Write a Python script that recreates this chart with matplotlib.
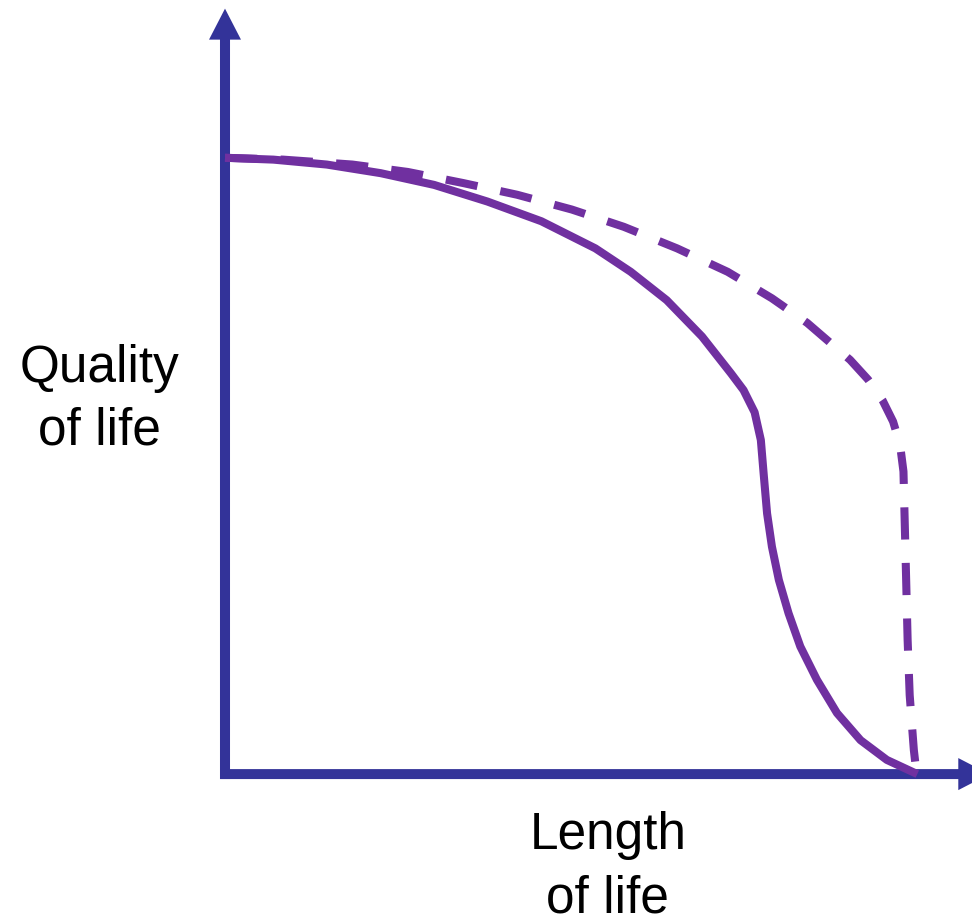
import matplotlib
matplotlib.use("Agg")
import matplotlib.pyplot as plt

plt.rcParams["font.family"] = ["Liberation Sans", "DejaVu Sans"]

# Concept curves: length of life (x, 0-100) vs quality of life (y, 0-100)
solid_x = [0, 7.0, 14.7, 22.5, 30.2, 37.9, 45.7, 53.5, 58.6, 63.8, 68.9, 73.1,
           74.9, 76.5, 77.4, 77.8, 78.3, 79.0, 80.0, 81.4, 83.1, 85.5, 88.4,
           91.8, 95.6, 100]
solid_y = [100, 99.7, 98.9, 97.5, 95.6, 92.9, 89.7, 85.3, 81.5, 76.9, 71.0, 65.0,
           62.3, 58.7, 54.2, 48.8, 42.3, 36.9, 31.5, 26.1, 20.7, 15.3, 9.9,
           5.5, 2.3, 0]

dashed_x = [0, 8.4, 18.4, 26.4, 34.4, 42.2, 50.1, 57.6, 65.3, 72.6, 79.0, 84.1,
            90.3, 92.9, 95.0, 96.5, 97.5, 98.0, 98.2, 98.4, 98.6, 98.9, 99.5, 99.9]
dashed_y = [100, 99.7, 98.9, 97.7, 95.9, 94.0, 91.6, 88.8, 85.3, 81.5, 77.2, 73.2,
            67.2, 64.0, 60.6, 57.2, 53.5, 49.1, 40.1, 31.0, 21.8, 12.8, 3.9, 0]

x_label = "Length\nof life"
y_label = "Quality\nof life"

AXIS_COLOR = "#333399"
CURVE_COLOR = "#7030A0"

fig = plt.figure(figsize=(9.72, 9.22), dpi=100)
ax = fig.add_axes([0, 0, 1, 1])
ax.set_xlim(-32.5, 107.9)
ax.set_ylim(-24.0, 125.6)
ax.axis("off")

# axes drawn as arrows
ax.arrow(0, -0.8, 0, 125.0, width=1.45, head_width=4.62, head_length=5.03,
         length_includes_head=True, color=AXIS_COLOR, lw=0, zorder=1)
ax.arrow(-0.7, 0, 111.1, 0, width=1.62, head_width=5.2, head_length=4.48,
         length_includes_head=True, color=AXIS_COLOR, lw=0, zorder=1)

lw = 5.8
ax.plot(solid_x, solid_y, color=CURVE_COLOR, lw=lw, solid_capstyle="butt",
        solid_joinstyle="round", zorder=2)
ax.plot(dashed_x, dashed_y, color=CURVE_COLOR, lw=lw, linestyle=(0, (4.0, 2.9)),
        dash_capstyle="butt", dash_joinstyle="round", zorder=2)

# va="baseline" puts the last line's baseline at y
ax.text(-18.1, 53.4, y_label, ha="center", va="baseline", fontsize=37,
        linespacing=1.38, multialignment="center")
ax.text(55.3, -22.4, x_label, ha="center", va="baseline", fontsize=37,
        linespacing=1.38, multialignment="center")

fig.savefig("out.png", dpi=100)
